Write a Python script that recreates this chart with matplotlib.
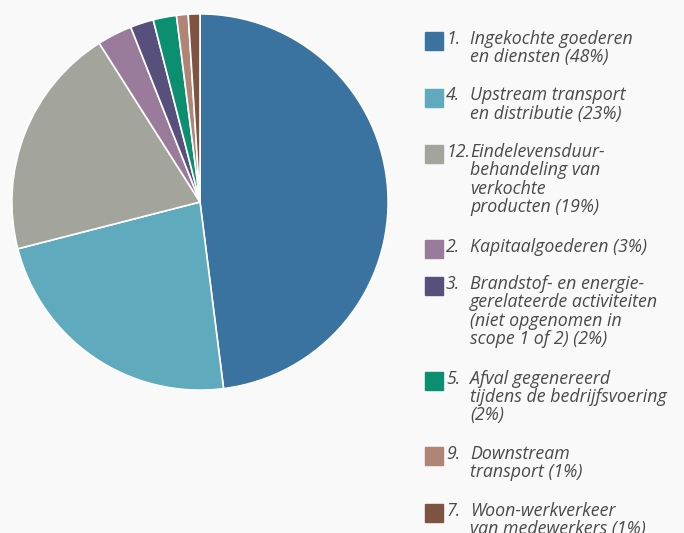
import matplotlib
matplotlib.use("Agg")
import matplotlib.pyplot as plt
from matplotlib.patches import Rectangle

# scope 3 categories, share in %
numbers = ["1.", "4.", "12.", "2.", "3.", "5.", "9.", "7."]
labels = [
    "Ingekochte goederen\nen diensten (48%)",
    "Upstream transport\nen distributie (23%)",
    "Eindelevensduur-\nbehandeling van\nverkochte\nproducten (19%)",
    "Kapitaalgoederen (3%)",
    "Brandstof- en energie-\ngerelateerde activiteiten\n(niet opgenomen in\nscope 1 of 2) (2%)",
    "Afval gegenereerd\ntijdens de bedrijfsvoering\n(2%)",
    "Downstream\ntransport (1%)",
    "Woon-werkverkeer\nvan medewerkers (1%)",
]
shares = [48, 23, 20, 3, 2, 2, 1, 1]
colors = ["#3b73a0", "#5fabbd", "#a3a59d", "#9a7b9b", "#57507d",
          "#0b8f70", "#b08575", "#7e5341"]

bg = "#f9f9f9"
W, H = 684, 533
fig = plt.figure(figsize=(W / 100, H / 100), dpi=100, facecolor=bg)

ax = fig.add_axes([10 / W, (H - 392) / H, 380 / W, 380 / H])
ax.pie(shares, colors=colors, startangle=90, counterclock=False,
       wedgeprops=dict(edgecolor="white", linewidth=1.2))
ax.set_xlim(-1.01, 1.01)
ax.set_ylim(-1.01, 1.01)
ax.set_aspect("equal")
ax.axis("off")

# legend drawn by hand: square, number, wrapped label
lax = fig.add_axes([0, 0, 1, 1])
lax.set_xlim(0, W)
lax.set_ylim(H, 0)
lax.axis("off")

line_h = 19
y = 31
txt = "#4a4a4a"
fs = 12.8
for num, lab, col in zip(numbers, labels, colors):
    lax.add_patch(Rectangle((425, y + 1), 18, 18, color=col))
    lax.text(446, y - 1, num, fontsize=fs, style="italic", color=txt,
             family="Open Sans", va="top", ha="left")
    lax.text(470, y - 1, lab, fontsize=fs, style="italic", color=txt,
             family="Open Sans", va="top", ha="left", linespacing=1.02)
    n = lab.count("\n") + 1
    y += n * line_h + 18.5

fig.savefig("out.png", dpi=100, facecolor=bg)
